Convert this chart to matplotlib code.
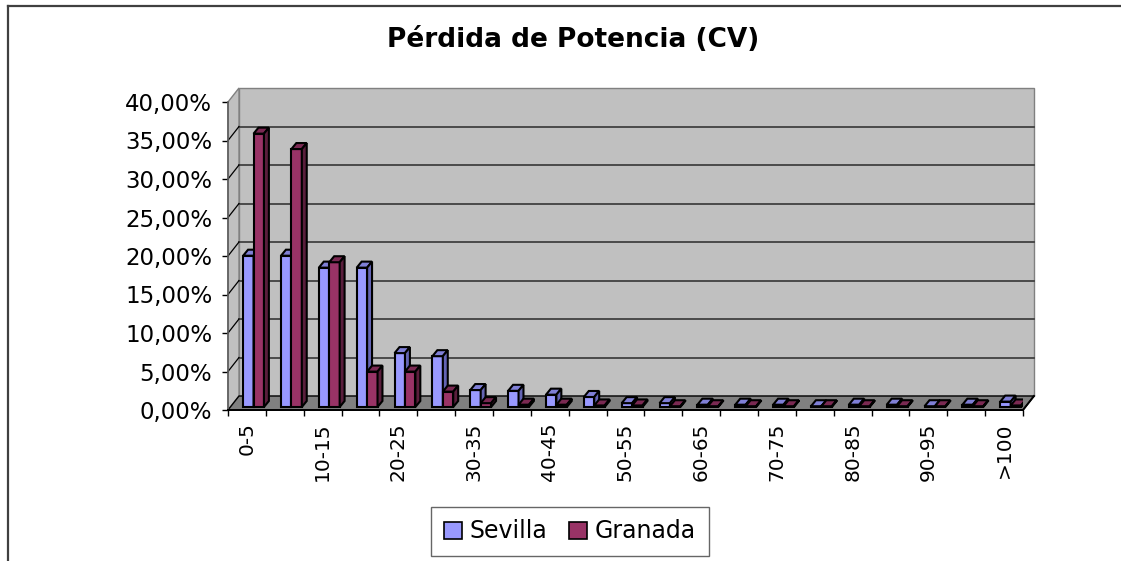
import numpy as np
import matplotlib
matplotlib.use("Agg")
import matplotlib.pyplot as plt
from matplotlib.patches import Polygon, Patch
from matplotlib.lines import Line2D

# datos (porcentaje)
categorias = ['0-5', '5-10', '10-15', '15-20', '20-25', '25-30', '30-35', '35-40',
              '40-45', '45-50', '50-55', '55-60', '60-65', '65-70', '70-75', '75-80',
              '80-85', '85-90', '90-95', '95-100', '>100']
sevilla = [19.65, 19.65, 18.1, 18.1, 7.0, 6.6, 2.2, 2.1, 1.6, 1.3, 0.5,
           0.5, 0.3, 0.3, 0.3, 0.1, 0.3, 0.3, 0.1, 0.3, 0.7]
granada = [35.5, 33.5, 18.8, 4.6, 4.6, 2.0, 0.5, 0.3, 0.3, 0.2, 0.2,
           0.1, 0.1, 0.1, 0.1, 0.1, 0.1, 0.1, 0.1, 0.1, 0.2]
series = ['Sevilla', 'Granada']
yticks = [0, 5, 10, 15, 20, 25, 30, 35, 40]

plt.rcParams['font.family'] = ['DejaVu Sans']

W, H = 1121, 561
fig = plt.figure(figsize=(W / 100, H / 100), dpi=100)
ax = fig.add_axes([228 / W, (H - 410) / H, (1023 - 228) / W, (410 - 102) / H])
n = len(categorias)
ax.set_xlim(0, n)
ax.set_ylim(0, 40)
ax.patch.set_visible(False)

# profundidad del suelo (en unidades de datos)
ddx, ddy = 11 / (795 / n), 14 / 7.7
# colocacion de las barras y su profundidad
bx, by = 0.06, 0.39
bdx, bdy = 0.13, 0.78
anchos = 0.275
offs = [0.34, 0.615]
col_front = ['#9999FF', '#993366']
col_top = ['#7F7FD6', '#7A2952']
col_side = ['#6464B4', '#5A1E3C']

# paredes y suelo
wall = Polygon([(ddx, ddy), (n + ddx, ddy), (n + ddx, 40 + ddy), (ddx, 40 + ddy)],
               closed=True, facecolor='#C0C0C0', edgecolor='#808080', lw=1, clip_on=False, zorder=0)
side = Polygon([(0, 0), (ddx, ddy), (ddx, 40 + ddy), (0, 40)],
               closed=True, facecolor='#C0C0C0', edgecolor='#808080', lw=1, clip_on=False, zorder=0)
floor = Polygon([(0, 0), (n, 0), (n + ddx, ddy), (ddx, ddy)],
                closed=True, facecolor='#808080', edgecolor='black', lw=1, clip_on=False, zorder=0.5)
for p in (wall, side, floor):
    ax.add_patch(p)
for v in yticks[1:-1]:
    ax.plot([ddx, n + ddx], [v + ddy, v + ddy], color='#4a4a4a', lw=1.4, clip_on=False, zorder=0.6)
    ax.plot([0, ddx], [v, v + ddy], color='black', lw=0.9, clip_on=False, zorder=0.6)

# barras 3D
x = np.arange(n)
for i in range(n):
    for s, vals in enumerate([sevilla, granada]):
        x0 = x[i] + offs[s] + bx
        y1 = by + vals[i]
        z = 2 + i * 0.01 + s * 0.005
        ax.bar(x0, vals[i], width=anchos, bottom=by, align='edge', color=col_front[s],
               edgecolor='black', linewidth=1.5, zorder=z)
        top = Polygon([(x0, y1), (x0 + anchos, y1), (x0 + anchos + bdx, y1 + bdy), (x0 + bdx, y1 + bdy)],
                      closed=True, facecolor=col_top[s], edgecolor='black', lw=1.5, zorder=z)
        lado = Polygon([(x0 + anchos, by), (x0 + anchos + bdx, by + bdy), (x0 + anchos + bdx, y1 + bdy),
                        (x0 + anchos, y1)],
                       closed=True, facecolor=col_side[s], edgecolor='black', lw=1.5, zorder=z)
        ax.add_patch(top)
        ax.add_patch(lado)

# ejes
for sp in ['top', 'right']:
    ax.spines[sp].set_visible(False)
ax.spines['left'].set_color('#606060')
ax.spines['left'].set_linewidth(1.2)
ax.spines['bottom'].set_color('black')
ax.spines['bottom'].set_linewidth(1.4)
ax.spines['bottom'].set_zorder(3)
ax.plot([n, n + ddx], [0, ddy], color='black', lw=1.4, clip_on=False, zorder=3)

ax.set_yticks(yticks)
ax.set_yticklabels([('%.2f' % v).replace('.', ',') + '%' for v in yticks])
ax.tick_params(axis='y', direction='out', length=4.3, width=1, color='black', pad=7, labelsize=16.5)

ax.set_xticks(np.arange(n + 1))
ax.set_xticklabels([])
ax.set_xticks(np.arange(0, n, 2) + 0.5, minor=True)
ax.set_xticklabels(categorias[::2], minor=True, rotation=90)
ax.tick_params(axis='x', which='major', direction='out', length=4.3, width=1, color='black')
ax.tick_params(axis='x', which='minor', length=0, pad=9, labelsize=14.5)

fig.text(573 / W, 1 - 40 / H, 'Pérdida de Potencia (CV)', ha='center', va='center',
         fontsize=19, fontweight='bold')

handles = [Patch(facecolor=col_front[s], edgecolor='black', linewidth=1.2) for s in range(2)]
leg = fig.legend(handles, series, loc='center', bbox_to_anchor=(570 / W, 1 - 531.5 / H), ncol=2,
                 frameon=True, fancybox=False, fontsize=17, handlelength=0.75, handleheight=0.75,
                 columnspacing=0.9, handletextpad=0.35, borderpad=0.55, borderaxespad=0)
leg.get_frame().set_edgecolor('#404040')
leg.get_frame().set_linewidth(1)

# marco del grafico
fig.add_artist(Line2D([8 / W, 8 / W], [0, 1 - 6 / H], transform=fig.transFigure, color='#404040', lw=1.6))
fig.add_artist(Line2D([8 / W, 1], [1 - 6 / H, 1 - 6 / H], transform=fig.transFigure, color='#404040', lw=1.6))

fig.savefig('out.png', dpi=100)
